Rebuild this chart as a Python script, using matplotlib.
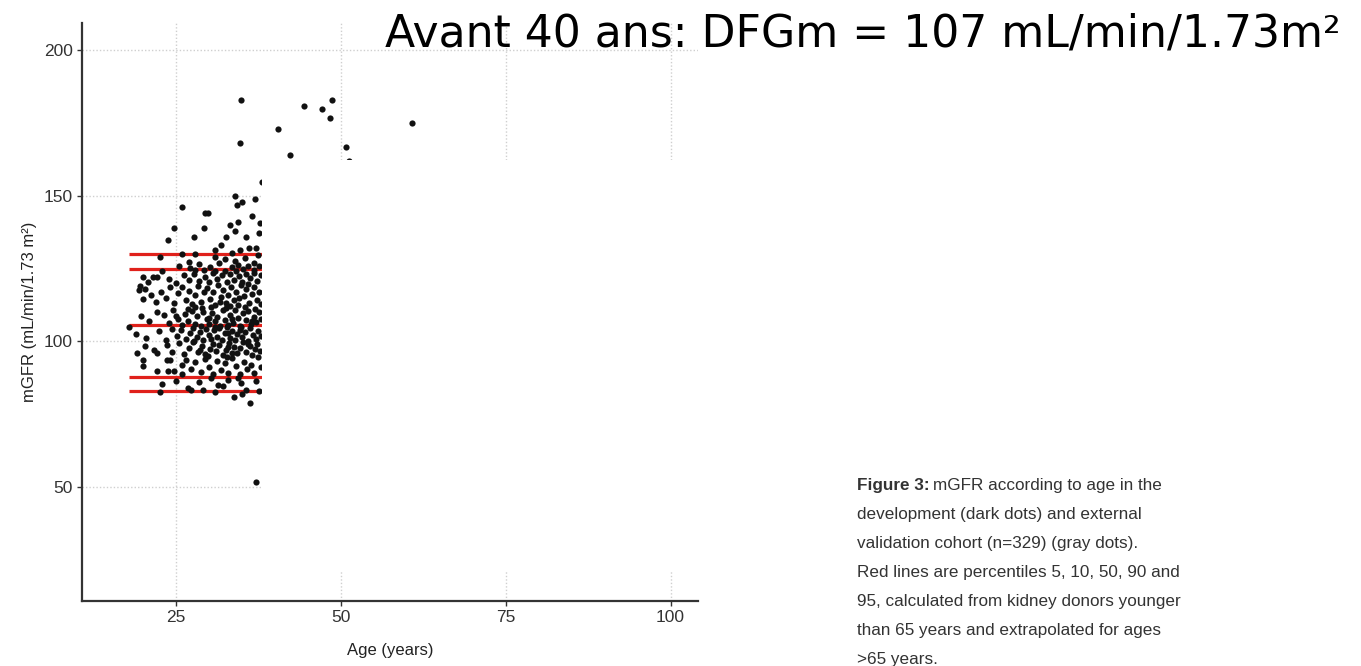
import numpy as np
import matplotlib.pyplot as plt
from matplotlib.patches import Rectangle

# ---------------------------------------------------------------
# Data (age in years, mGFR in mL/min/1.73 m2)
# ---------------------------------------------------------------

# isolated points above 150
high_age = [34.9, 34.7, 40.5, 42.4, 44.4, 47.2, 48.7, 48.4, 50.8, 51.2, 60.8, 38.1]
high_gfr = [182.7, 168.0, 172.8, 163.9, 180.7, 179.6, 182.7, 176.6, 166.6, 161.8, 174.8, 154.6]

# main cloud, band by band
age_b1 = [26.0, 29.4, 29.9, 34.0, 34.3, 35.0, 37.0, 24.7, 23.9, 27.8, 29.3, 32.7, 33.2, 34.0, 34.5, 35.7, 37.6, 36.5, 37.8]
gfr_b1 = [146.0, 143.9, 143.9, 149.9, 146.8, 147.9, 148.9, 138.8, 134.8, 135.7, 138.8, 135.7, 139.9, 137.7, 141.1, 135.7, 137.1, 143.0, 140.5]

age_b2 = [22.7, 27.0, 28.0, 30.9, 30.9, 34.8, 36.1, 37.2, 34.0, 35.5, 36.8, 31.8, 33.5, 37.5, 26.0, 32.5]
gfr_b2 = [128.8, 127.1, 129.9, 131.3, 129.1, 131.3, 131.9, 131.9, 127.4, 128.5, 127.0, 133.0, 130.2, 129.5, 130.0, 128.2]

age_b3 = [23.0, 25.5, 27.2, 28.5, 29.3, 30.2, 31.5, 32.4, 33.6, 34.5, 35.2, 36.0, 36.9, 37.7,
          20.0, 20.8, 21.5, 22.1, 19.6, 20.3,
          24.0, 25.0, 26.3, 27.0, 27.8, 28.6, 29.5, 30.0, 30.7, 31.3, 32.0, 32.8, 33.3, 33.9, 34.6,
          35.0, 35.6, 36.3, 36.8, 37.3, 37.9, 31.0, 34.2, 28.0]
gfr_b3 = [124.0, 125.8, 125.0, 126.5, 124.5, 125.5, 126.8, 124.2, 125.6, 126.2, 124.8, 125.9, 124.4, 126.0,
          122.0, 120.5, 122.2, 122.2, 119.0, 118.0,
          121.5, 120.0, 122.8, 121.0, 123.0, 120.8, 122.0, 120.2, 123.3, 121.5, 122.8, 120.5, 123.0, 121.2, 122.5,
          120.3, 123.2, 121.8, 123.5, 120.8, 122.6, 124.0, 124.0, 124.6]

age_b4 = [19.5, 20.0, 21.2, 22.0, 22.8, 23.5, 24.2, 24.8, 25.4, 26.0,
          26.5, 27.0, 27.5, 28.0, 28.4, 28.9, 29.3, 29.8, 30.2, 30.6,
          31.0, 31.4, 31.8, 32.2, 32.6, 33.0, 33.4, 33.8, 34.1, 34.5,
          34.9, 35.3, 35.7, 36.1, 36.5, 36.9, 37.3, 37.7, 38.0,
          31.7, 33.2, 35.9, 29.0, 26.8, 37.0, 30.4, 34.6]
gfr_b4 = [117.6, 114.5, 116.0, 113.5, 117.0, 115.0, 118.5, 113.2, 116.5, 118.8,
          114.0, 117.2, 112.8, 115.8, 119.0, 113.6, 116.8, 118.2, 114.4, 116.9,
          112.5, 119.2, 115.2, 117.7, 113.1, 116.0, 118.6, 114.1, 116.9, 112.6,
          119.4, 115.5, 117.9, 113.3, 116.2, 118.8, 114.2, 116.8, 112.9,
          113.6, 112.2, 119.8, 111.5, 111.0, 111.2, 111.9, 114.8]

age_b5 = [18.0, 19.8, 22.1, 21.0, 23.2, 24.0, 24.6, 25.3, 25.9, 26.4,
          26.9, 27.4, 27.9, 28.3, 28.8, 29.2, 29.7, 30.1, 30.5, 30.9,
          31.3, 31.7, 32.1, 32.5, 32.9, 33.3, 33.7, 34.0, 34.4, 34.8,
          35.2, 35.6, 36.0, 36.4, 36.8, 37.2, 37.6, 37.9,
          28.0, 32.7, 35.5, 30.0, 33.5, 36.6, 25.0]
gfr_b5 = [105.0, 108.6, 110.1, 107.0, 109.0, 106.2, 110.8, 107.8, 105.6, 109.4,
          107.1, 110.5, 106.0, 108.7, 105.3, 110.2, 107.5, 105.8, 109.8, 106.9,
          108.4, 105.2, 110.6, 107.3, 105.7, 109.1, 106.4, 110.9, 108.0, 105.4,
          109.6, 107.2, 110.3, 105.9, 108.5, 106.7, 110.0, 107.8,
          111.6, 111.4, 111.7, 108.0, 107.7, 106.8, 108.6]

age_b6 = [19.0, 20.5, 22.5, 23.5, 24.4, 25.2, 25.8, 26.6, 27.1, 27.6,
          28.2, 28.7, 29.1, 29.6, 30.0, 30.4, 30.8, 31.2, 31.6, 32.0,
          32.4, 32.8, 33.2, 33.6, 34.0, 34.3, 34.7, 35.1, 35.5, 35.9,
          36.3, 36.7, 37.1, 37.5, 37.9, 31.0, 34.9, 27.8, 33.0]
gfr_b6 = [102.5, 101.0, 103.5, 100.5, 104.2, 101.8, 103.9, 100.7, 102.9, 104.6,
          101.3, 103.2, 100.4, 104.1, 102.2, 100.9, 103.7, 101.6, 104.4, 100.3,
          102.8, 104.9, 101.0, 103.4, 100.6, 102.5, 104.0, 101.4, 103.1, 100.2,
          104.7, 102.0, 100.9, 103.6, 101.7, 105.0, 105.0, 100.0, 103.0]

age_b7 = [19.2, 20.3, 21.7, 22.2, 23.7, 24.5, 25.5, 26.3, 27.0, 27.7,
          28.4, 29.0, 29.5, 30.2, 30.7, 31.1, 31.6, 32.1, 32.6, 33.1,
          33.5, 33.9, 34.3, 34.8, 35.2, 35.7, 36.2, 36.6, 37.0, 37.4,
          37.8, 28.7, 32.9, 35.9]
gfr_b7 = [96.0, 98.5, 97.0, 95.8, 98.8, 96.4, 99.3, 95.5, 97.8, 99.6,
          96.2, 98.3, 95.7, 97.4, 99.2, 96.5, 98.6, 95.3, 97.1, 99.5,
          96.0, 98.0, 95.9, 97.7, 99.7, 96.3, 98.4, 95.4, 97.2, 99.1,
          96.6, 97.0, 97.9, 98.9]

age_b8 = [20.0, 20.0, 22.2, 23.8, 24.8, 23.7, 24.1, 25.9, 26.6, 27.3,
          28.0, 28.8, 29.4, 30.1, 30.6, 31.2, 31.9, 32.5, 33.0, 33.6,
          34.2, 34.7, 35.3, 35.8, 36.4, 36.9, 37.5, 37.9, 29.9, 32.8, 26.0]
gfr_b8 = [93.5, 91.6, 89.8, 89.8, 89.8, 93.5, 93.5, 92.0, 93.5, 90.5,
          92.8, 89.5, 94.0, 91.2, 88.6, 93.2, 90.0, 92.4, 89.0, 94.3,
          91.5, 88.9, 93.0, 90.4, 92.0, 89.2, 94.5, 91.0, 94.8, 94.6, 88.8]

age_b9 = [23.0, 22.6, 26.9, 27.3, 29.1, 30.4, 31.4, 32.1, 32.9, 33.9,
          34.4, 35.7, 37.2, 36.2, 35.0, 28.5, 25.0, 37.7, 34.9, 31.0, 37.1]
gfr_b9 = [85.3, 82.5, 83.8, 83.3, 83.1, 87.4, 85.1, 84.5, 86.8, 81.0,
          87.4, 83.3, 86.2, 78.8, 82.0, 86.0, 86.5, 83.0, 85.5, 82.5, 51.7]

# percentiles 95, 90, 50, 10, 5 (red lines)
pct_values = [129.9, 124.9, 105.5, 87.6, 82.8]
pct_start, pct_end = 18.0, 65.0

title_txt = 'Avant 40 ans: DFGm = 107 mL/min/1.73m\u00b2'
caption_lines = ['development (dark dots) and external',
                 'validation cohort (n=329) (gray dots).',
                 'Red lines are percentiles 5, 10, 50, 90 and',
                 '95, calculated from kidney donors younger',
                 'than 65 years and extrapolated for ages',
                 '>65 years.']

#############################################
# Plot
#############################################
W, H = 1361, 666
fig = plt.figure(figsize=(W / 100, H / 100), dpi=100)
ax = fig.add_axes([82.3 / W, 1 - 600.7 / H, 616 / W, 577.4 / H])

all_age = high_age + age_b1 + age_b2 + age_b3 + age_b4 + age_b5 + age_b6 + age_b7 + age_b8 + age_b9
all_gfr = high_gfr + gfr_b1 + gfr_b2 + gfr_b3 + gfr_b4 + gfr_b5 + gfr_b6 + gfr_b7 + gfr_b8 + gfr_b9

ax.hlines(pct_values, pct_start, pct_end, colors='#e0211b', linewidth=2.3, zorder=2)
ax.scatter(all_age, all_gfr, s=20, c='#111111', linewidths=0, zorder=3)

ax.set_xlim(10.85, 104.2)
ax.set_ylim(10.9, 209.2)
ax.set_xticks([25, 50, 75, 100])
ax.set_yticks([50, 100, 150, 200])
ax.grid(True, color='#cfcfcf', linestyle=(0, (1, 1.5)), linewidth=1.0, zorder=0)
ax.set_axisbelow(True)

for s in ['top', 'right']:
    ax.spines[s].set_visible(False)
for s in ['left', 'bottom']:
    ax.spines[s].set_color('#333333')
    ax.spines[s].set_linewidth(1.6)

ax.tick_params(length=3.5, width=1, color='#333333', labelcolor='#333333', labelsize=12.5, pad=3.5)
for lab in ax.get_xticklabels() + ax.get_yticklabels():
    lab.set_family('Liberation Sans')
ax.set_xlabel('Age (years)', fontsize=12, family='Liberation Sans', color='#222222', labelpad=13)
ax.set_ylabel('mGFR (mL/min/1.73 m\u00b2)', fontsize=12, family='Liberation Sans', color='#222222', labelpad=5)

# white block of the slide hiding the rest of the scatter
fig.add_artist(Rectangle((262 / W, 1 - 572 / H), (760 - 262) / W, (572 - 160) / H,
                         transform=fig.transFigure, facecolor='white', edgecolor='none', zorder=5))

# slide title
fig.text(385 / W, 1 - 46.7 / H, title_txt, fontsize=31.8, family='DejaVu Sans',
         color='black', ha='left', va='baseline', zorder=6)

# caption
cap_font = 'Liberation Sans'
fig.text(857 / W, 1 - 490 / H, 'Figure 3:', fontsize=12.3, fontweight='bold', family=cap_font,
         color='#333333', va='baseline', zorder=6)
fig.text(933 / W, 1 - 490 / H, 'mGFR according to age in the', fontsize=12.3, family=cap_font,
         color='#333333', va='baseline', zorder=6)
for i, line in enumerate(caption_lines):
    fig.text(857 / W, 1 - (519.3 + 28.9 * i) / H, line, fontsize=12.3, family=cap_font,
             color='#333333', va='baseline', zorder=6)

plt.savefig('out.png', dpi=100)
